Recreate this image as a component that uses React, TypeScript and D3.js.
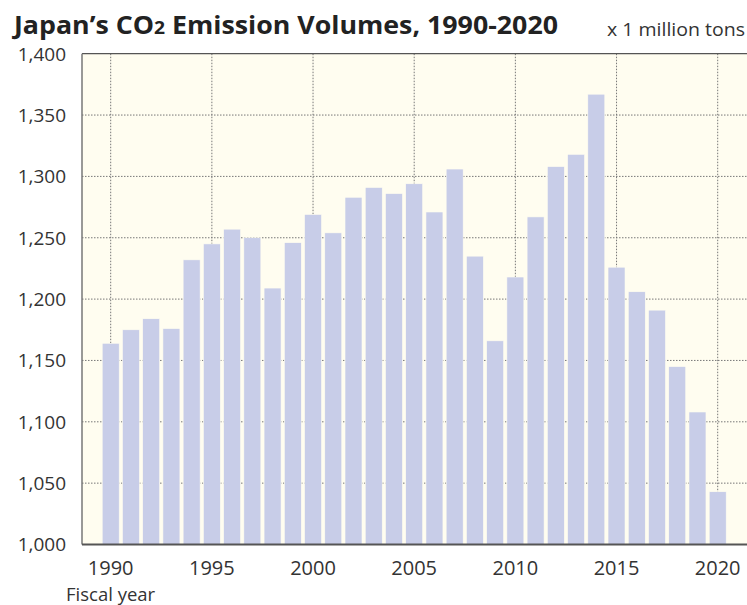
import React from "react";
import * as d3 from "d3";

const years: number[] = d3.range(1990, 2021);
const emissions: number[] = [
  1164, 1175, 1184, 1176, 1232, 1245, 1257, 1250, 1209, 1246,
  1269, 1254, 1283, 1291, 1286, 1294, 1271, 1306, 1235, 1166,
  1218, 1267, 1308, 1318, 1367, 1226, 1206, 1191, 1145, 1108,
  1043,
];
const yTicks: number[] = [1000, 1050, 1100, 1150, 1200, 1250, 1300, 1350, 1400];
const xTickYears: number[] = [1990, 1995, 2000, 2005, 2010, 2015, 2020];

const W = 747;
const H = 605;
const plotLeft = 82;
const plotRight = 747;
const plotTop = 53.7;
const plotBottom = 544.5;

const FONT = "'Open Sans', 'Noto Sans', sans-serif";

export default function App() {
  const step = (717.7 - 110.7) / 30;
  const x = d3
    .scaleBand<number>()
    .domain(years)
    .range([110.7 - step / 2, 717.7 + step / 2])
    .paddingInner(0.16)
    .paddingOuter(0.08);
  const y = d3.scaleLinear().domain([1000, 1400]).range([plotBottom, plotTop]);
  const fmt = d3.format(",");
  const cx = (yr: number) => (x(yr) as number) + x.bandwidth() / 2;

  return (
    <svg
      width={W}
      height={H}
      style={{ position: "absolute", left: 0, top: 0, display: "block" }}
    >
      <rect x={0} y={0} width={W} height={H} fill="#ffffff" />
      <text
        x={14}
        y={34}
        fontFamily={FONT}
        fontWeight={700}
        fontSize={25}
        fill="#222"
        textLength={544}
        lengthAdjust="spacingAndGlyphs"
      >
        Japan’s CO<tspan fontSize={18}>2</tspan> Emission Volumes, 1990-2020
      </text>
      <text
        x={745}
        y={36}
        fontFamily={FONT}
        fontSize={19}
        fill="#333"
        textAnchor="end"
        textLength={138}
        lengthAdjust="spacingAndGlyphs"
      >
        x 1 million tons
      </text>

      <rect
        x={plotLeft}
        y={plotTop}
        width={plotRight - plotLeft}
        height={plotBottom - plotTop}
        fill="#fffdf0"
      />
      {/* gridlines */}
      {yTicks.slice(1, -1).map((t) => (
        <line
          key={"hy" + t}
          x1={plotLeft}
          x2={plotRight}
          y1={y(t)}
          y2={y(t)}
          stroke="#777"
          strokeWidth={1}
          strokeDasharray="1.5,1.5"
        />
      ))}
      {xTickYears.map((yr) => (
        <line
          key={"vx" + yr}
          x1={cx(yr)}
          x2={cx(yr)}
          y1={plotTop}
          y2={plotBottom}
          stroke="#777"
          strokeWidth={1}
          strokeDasharray="1.5,1.5"
        />
      ))}
      {/* bars */}
      {years.map((yr, i) => (
        <rect
          key={yr}
          x={x(yr)}
          y={y(emissions[i])}
          width={x.bandwidth()}
          height={plotBottom - y(emissions[i])}
          fill="#c8cde8"
          stroke="#fffdf0"
          strokeWidth={0.6}
        />
      ))}
      {/* axes lines */}
      <line x1={plotLeft} x2={plotRight} y1={plotTop} y2={plotTop} stroke="#555" strokeWidth={1.2} />
      <line x1={plotLeft} x2={plotLeft} y1={plotTop} y2={plotBottom} stroke="#777" strokeWidth={1.5} />
      <line x1={plotLeft} x2={plotRight} y1={plotBottom} y2={plotBottom} stroke="#555" strokeWidth={2} />

      {/* y tick labels */}
      {yTicks.map((t) => (
        <text
          key={"yt" + t}
          x={66}
          y={y(t)}
          dy="0.36em"
          textAnchor="end"
          fontFamily={FONT}
          fontSize={19}
          fill="#333"
        >
          {fmt(t)}
        </text>
      ))}
      {/* x tick labels */}
      {xTickYears.map((yr) => (
        <text
          key={"xt" + yr}
          x={cx(yr)}
          y={575}
          textAnchor="middle"
          fontFamily={FONT}
          fontSize={20}
          fill="#333"
        >
          {yr}
        </text>
      ))}
      <text x={66} y={601} fontFamily={FONT} fontSize={18.5} fill="#333">
        Fiscal year
      </text>
    </svg>
  );
}
